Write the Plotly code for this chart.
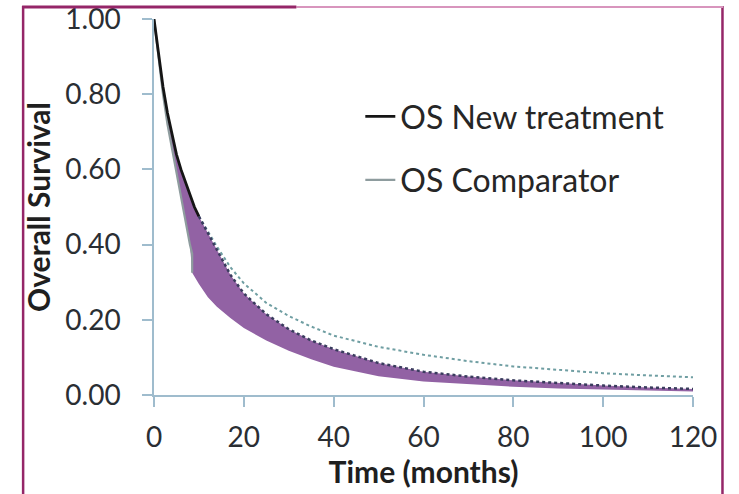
import plotly.graph_objects as go

# ---- data ----
new_km_t = [0, 1, 2, 3, 4, 5, 6, 7, 8, 9, 10]
new_km_s = [1.00, 0.91, 0.82, 0.75, 0.69, 0.64, 0.60, 0.565, 0.53, 0.50, 0.475]

comp_km_t = [0, 1, 2, 3, 4, 5, 6, 7, 8, 8.5, 8.5]
comp_km_s = [1.00, 0.90, 0.80, 0.72, 0.655, 0.59, 0.52, 0.46, 0.40, 0.375, 0.325]

ext_t = [10, 12, 14, 17, 20, 25, 30, 35, 40, 50, 60, 70, 80, 90, 100, 110, 120]
ext_upper = [0.475, 0.435, 0.395, 0.34, 0.297, 0.245, 0.21, 0.182, 0.158, 0.128,
             0.107, 0.09, 0.076, 0.067, 0.058, 0.052, 0.047]
ext_lower = [0.475, 0.43, 0.385, 0.32, 0.27, 0.215, 0.175, 0.145, 0.122, 0.085,
             0.062, 0.049, 0.039, 0.031, 0.025, 0.02, 0.016]

band_top_t = [3, 4, 5, 6, 7, 8, 9, 10, 12, 14, 17, 20, 25, 30, 35, 40, 50, 60, 70, 80, 90, 100, 110, 120]
band_top_s = [0.75, 0.69, 0.64, 0.60, 0.565, 0.53, 0.50, 0.475, 0.43, 0.385, 0.32, 0.27, 0.215,
              0.175, 0.145, 0.122, 0.085, 0.062, 0.049, 0.039, 0.031, 0.025, 0.02, 0.016]
band_bot_t = [3, 4, 5, 6, 7, 8, 8.5, 10, 12, 14, 17, 20, 25, 30, 35, 40, 50, 60, 70, 80, 90, 100, 110, 120]
band_bot_s = [0.72, 0.655, 0.59, 0.52, 0.46, 0.40, 0.325, 0.295, 0.26, 0.235, 0.205, 0.178, 0.145,
              0.118, 0.095, 0.075, 0.05, 0.036, 0.028, 0.022, 0.017, 0.013, 0.011, 0.009]

x_ticks = [0, 20, 40, 60, 80, 100, 120]
y_ticks = [0.0, 0.2, 0.4, 0.6, 0.8, 1.0]

FONT = "Lato"
fig = go.Figure()

# purple band
fig.add_trace(go.Scatter(
    x=band_top_t + band_bot_t[::-1], y=band_top_s + band_bot_s[::-1],
    fill="toself", fillcolor="rgb(146,98,164)", mode="lines",
    line=dict(width=0, color="rgb(146,98,164)"), showlegend=False, hoverinfo="skip"))

# extrapolations
fig.add_trace(go.Scatter(x=ext_t, y=ext_upper, mode="lines",
                         line=dict(color="#6f9ea2", width=2, dash="dot"), showlegend=False))
fig.add_trace(go.Scatter(x=ext_t, y=ext_lower, mode="lines",
                         line=dict(color="#3a3c5e", width=2.5, dash="dot"), showlegend=False))

# KM curves
fig.add_trace(go.Scatter(x=comp_km_t, y=comp_km_s, mode="lines", name="OS Comparator",
                         line=dict(color="#8e9c9e", width=2.2), legendgroup="b", legendrank=2))
fig.add_trace(go.Scatter(x=new_km_t, y=new_km_s, mode="lines", name="OS New treatment",
                         line=dict(color="#151515", width=2.8), legendgroup="a", legendrank=1))

L, R, T, B = 153.5, 693.0, 19.0, 395.0
W, H = R - L, B - T
def px(x): return (x - L) / W
def py(y): return (B - y) / H

frame_dark = "#952668"
shapes = [
    dict(type="line", xref="paper", yref="paper", x0=px(22.5), x1=px(22.5), y0=py(6), y1=py(500),
         line=dict(color=frame_dark, width=2.5)),
    dict(type="line", xref="paper", yref="paper", x0=px(722.5), x1=px(722.5), y0=py(6), y1=py(500),
         line=dict(color=frame_dark, width=2.5)),
    dict(type="line", xref="paper", yref="paper", x0=px(296), x1=px(723), y0=py(7), y1=py(7),
         line=dict(color="#d895bd", width=2)),
    dict(type="line", xref="paper", yref="paper", x0=px(21.5), x1=px(296), y0=py(7), y1=py(7),
         line=dict(color=frame_dark, width=3)),
]

axis_col = "#9fbccd"
fig.update_layout(
    width=739, height=494,
    margin=dict(l=L, r=739 - R, t=T, b=494 - B, pad=0),
    paper_bgcolor="white", plot_bgcolor="white",
    font=dict(family=FONT, color="#2a2e33"),
    shapes=shapes,
    legend=dict(x=px(360), y=py(89), xanchor="left", yanchor="top",
                font=dict(family=FONT, size=32, color="#262626"),
                bgcolor="rgba(0,0,0,0)", tracegroupgap=19, itemwidth=30,
                traceorder="grouped"),
    xaxis=dict(range=[0, 120], tickvals=x_ticks, ticks="outside", ticklen=10, tickcolor=axis_col,
               tickwidth=1.5, showline=True, linecolor=axis_col, linewidth=1.5, showgrid=False,
               zeroline=False, automargin=False, ticklabelstandoff=7,
               tickfont=dict(size=28, color="#2a2e33"),
               title=dict(text="<b>Time (months)</b>", font=dict(size=30, color="#1f1f1f"), standoff=3)),
    yaxis=dict(range=[0, 1], tickvals=y_ticks, tickformat=".2f", ticks="outside", ticklen=10,
               tickcolor=axis_col, tickwidth=1.5, showline=True, linecolor=axis_col, linewidth=1.5,
               showgrid=False, zeroline=False, automargin=False, ticklabelstandoff=16,
               tickfont=dict(size=28, color="#2a2e33"),
               title=dict(text="<b>Overall Survival</b>", font=dict(size=30, color="#1f1f1f"), standoff=6)),
)

fig.write_html("out.html")
